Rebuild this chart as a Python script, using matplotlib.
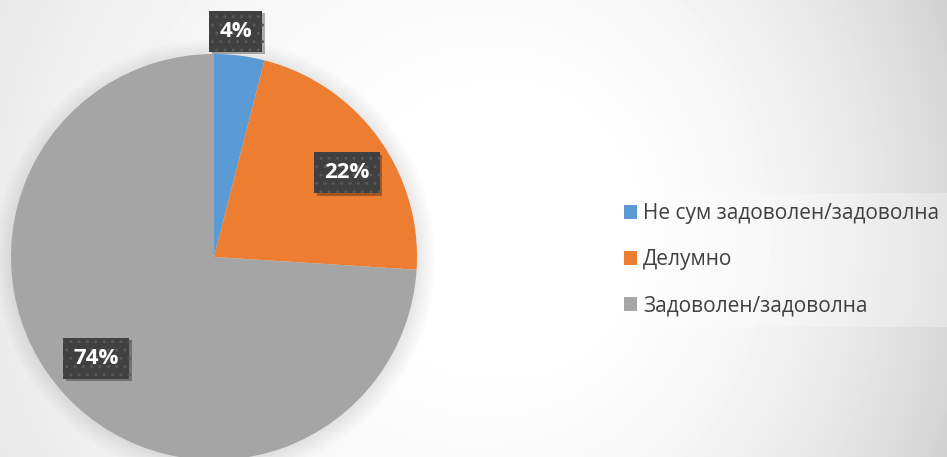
import numpy as np
import matplotlib.pyplot as plt
from matplotlib import patheffects as pe
from matplotlib.patches import Circle

# data
labels = ["Не сум задоволен/задоволна", "Делумно", "Задоволен/задоволна"]
shares = [4, 22, 74]
colors = ["#5B9BD5", "#ED7D31", "#A5A5A5"]

# where each percentage box sits: fraction of radius, angle nudge in degrees
label_dist = [1.118, 0.775, 0.765]
label_nudge = [1.7, -3.7, -2.6]

W, H = 947, 457
fig = plt.figure(figsize=(W / 100, H / 100), dpi=100)

# slide-like background: white in the middle, greyer towards the sides
bg = fig.add_axes([0, 0, 1, 1])
yy, xx = np.mgrid[0:H, 0:W]
dx = xx - 530.0
dy = yy - 230.0
sx = np.where(dx < 0, 520.0, 420.0)
rn = np.sqrt((dx / sx) ** 2 + (dy / 500.0) ** 2)
amp = 0.11 + 0.04 * np.tanh(dx / 150.0)
val = np.clip(1 - amp * rn ** 2.2, 0, 1)
bg.imshow(val, cmap="gray", vmin=0, vmax=1, extent=(0, W, H, 0), aspect="auto")
bg.set_axis_off()

# pie axes: centre at (214, 257) px, radius 203 px
cx, cy, r = 214, 257, 203
ax = fig.add_axes([(cx - r) / W, (H - cy - r) / H, 2 * r / W, 2 * r / H])

# soft shadow round the pie
for k in range(8):
    ax.add_patch(Circle((0.005, -0.01), 1.0 + 0.012 * k, color="black",
                        alpha=0.012, lw=0, zorder=0, clip_on=False))

wedges, _ = ax.pie(shares, colors=colors, startangle=90, counterclock=False,
                   radius=1.0, wedgeprops=dict(linewidth=0), frame=False)
for w in wedges:
    w.set_zorder(2)
ax.set_xlim(-1, 1)
ax.set_ylim(-1, 1)
ax.set_axis_off()

for w, s, d, nd in zip(wedges, shares, label_dist, label_nudge):
    ang = np.deg2rad((w.theta1 + w.theta2) / 2 + nd)
    t = ax.text(d * np.cos(ang), d * np.sin(ang), f"{s}%", ha="center", va="center",
                color="white", fontsize=16, fontweight="bold", family=["Open Sans", "DejaVu Sans"],
                zorder=5, clip_on=False,
                bbox=dict(boxstyle="square,pad=0.45", facecolor="#404040",
                          edgecolor="#585858", linewidth=0, hatch=".."))
    t.get_bbox_patch().set_path_effects([
        pe.SimplePatchShadow(offset=(2, -2), shadow_rgbFace="black", alpha=0.3),
        pe.Normal()])

leg = fig.legend(wedges, labels, loc="center left",
                 bbox_to_anchor=(603 / W, (H - 260) / H),
                 frameon=True, fancybox=False, facecolor="white", framealpha=0.3,
                 edgecolor="none", handlelength=0.62, handleheight=0.62,
                 handletextpad=0.3, labelspacing=1.2, borderpad=0.5,
                 prop=dict(family=["Open Sans", "DejaVu Sans"], size=15))
for txt in leg.get_texts():
    txt.set_color("#404040")

fig.savefig("out.png", dpi=100)
